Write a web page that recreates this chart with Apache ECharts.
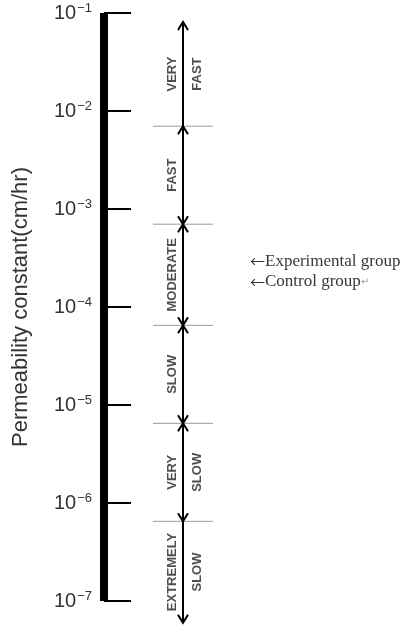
<!DOCTYPE html>
<html>
<head>
<meta charset="utf-8">
<script src="https://cdn.jsdelivr.net/npm/echarts@6/dist/echarts.min.js"></script>
<style>html,body{margin:0;padding:0;background:#fff}#c{width:409px;height:628px}</style>
</head>
<body>
<div id="c"></div>
<script>
// ---- data ----
const tickExponents = [-7, -6, -5, -4, -3, -2, -1];
const classNames = ['VERY FAST', 'FAST', 'MODERATE', 'SLOW', 'VERY SLOW', 'EXTREMELY SLOW'];
// class limits (cm/hr), top to bottom; first and last are the arrow tips
const classBounds = [8.1e-2, 7e-3, 7e-4, 6.5e-5, 6.5e-6, 6.5e-7, 6e-8];
const arrowAtTop = [1, 1, 1, 1, 1, 0];
const arrowAtBottom = [0, 1, 1, 1, 1, 1];
const groupNames = ['Experimental group', 'Control group'];
const groupValues = [2.9e-4, 1.8e-4];

// ---- layout (x in grid units = pixels from axis) ----
const X_ARROW = 79, X_LINE0 = 49, X_LINE1 = 109, X_WORD1 = 68, X_WORD2 = 93, X_GROUP = 146;

const segData = classNames.map((n, i) => [X_ARROW, classBounds[i], classBounds[i + 1], arrowAtTop[i], arrowAtBottom[i]]);
const boundData = classBounds.slice(1, -1).map(b => [X_LINE0, b]);
const word1Data = [], word2Data = [];
classNames.forEach((n, i) => {
  const mid = Math.sqrt(classBounds[i] * classBounds[i + 1]);
  const w = n.split(' ');
  word1Data.push({ value: [X_WORD1, mid], name: w[0] });
  if (w[1]) word2Data.push({ value: [X_WORD2, mid], name: w[1] });
});
const groupData = groupNames.map((g, i) => ({ value: [X_GROUP, groupValues[i]], name: g }));

const wordLabel = {
  show: true, position: 'inside', rotate: 90, formatter: p => p.name,
  fontFamily: 'Liberation Sans, Arial, sans-serif', fontWeight: 'bold', fontSize: 13, color: '#222'
};

const chart = echarts.init(document.getElementById('c'), null, { renderer: 'canvas' });
chart.setOption({
  animation: false,
  backgroundColor: '#fff',
  grid: { left: 104, right: 0, top: 13, bottom: 27, containLabel: false, outerBoundsMode: 'none' },
  xAxis: { type: 'value', min: 0, max: 305, show: false },
  yAxis: {
    type: 'log', logBase: 10, min: Math.pow(10, tickExponents[0]), max: Math.pow(10, tickExponents[tickExponents.length - 1]),
    splitNumber: 6,
    name: 'Permeability constant(cm/hr)', nameLocation: 'middle', nameGap: 72, nameRotate: 90,
    nameTextStyle: { fontFamily: 'Liberation Sans, Arial, sans-serif', fontSize: 22, color: '#333' },
    axisLine: { show: true, lineStyle: { color: '#000', width: 8, cap: 'butt' } },
    axisTick: { show: true, inside: true, length: 27, lineStyle: { color: '#000', width: 2 } },
    splitLine: { show: false },
    minorTick: { show: false },
    axisLabel: {
      margin: 12,
      formatter: v => '{b|10}{s|−' + Math.abs(Math.round(Math.log10(v))) + '}',
      rich: {
        b: { fontFamily: 'Liberation Sans, Arial, sans-serif', fontSize: 20, color: '#333', lineHeight: 22 },
        s: { fontFamily: 'Liberation Sans, Arial, sans-serif', fontSize: 13, color: '#333', verticalAlign: 'top', lineHeight: 14, padding: [0, 0, 0, 1] }
      }
    }
  },
  series: [
    {
      type: 'custom', clip: false, silent: true,
      encode: { x: 0, y: [1, 2] },
      data: segData,
      renderItem: (params, api) => {
        const t = api.coord([api.value(0), api.value(1)]);
        const b = api.coord([api.value(0), api.value(2)]);
        const st = { stroke: '#000', lineWidth: 2, fill: null };
        const ch = [{ type: 'line', shape: { x1: t[0], y1: t[1], x2: b[0], y2: b[1] }, style: st }];
        if (api.value(3)) ch.push({ type: 'polyline', shape: { points: [[t[0] - 5, t[1] + 8], [t[0], t[1]], [t[0] + 5, t[1] + 8]] }, style: st });
        if (api.value(4)) ch.push({ type: 'polyline', shape: { points: [[b[0] - 5, b[1] - 8], [b[0], b[1]], [b[0] + 5, b[1] - 8]] }, style: st });
        return { type: 'group', children: ch };
      }
    },
    {
      type: 'custom', clip: false, silent: true, z: 1,
      encode: { x: 0, y: 1 },
      data: boundData,
      renderItem: (params, api) => {
        const a = api.coord([X_LINE0, api.value(1)]);
        const b = api.coord([X_LINE1, api.value(1)]);
        return { type: 'line', shape: { x1: a[0], y1: a[1], x2: b[0], y2: b[1] }, style: { stroke: '#999', lineWidth: 1 } };
      }
    },
    { type: 'scatter', symbolSize: 0, silent: true, data: word1Data, label: wordLabel },
    { type: 'scatter', symbolSize: 0, silent: true, data: word2Data, label: wordLabel },
    {
      type: 'scatter', symbolSize: 0, silent: true, data: groupData,
      label: {
        show: true, position: 'right', distance: 0,
        formatter: p => '{a|←}' + p.name + (p.dataIndex === groupData.length - 1 ? '{r|↵}' : ''),
        fontFamily: 'Liberation Serif, Times New Roman, serif', fontSize: 17, color: '#000',
        rich: {
          a: { fontSize: 15, color: '#000', fontFamily: 'Noto Sans CJK SC, DejaVu Sans, sans-serif' },
          r: { fontSize: 10, color: '#888', fontFamily: 'DejaVu Sans, sans-serif' }
        }
      }
    }
  ]
});
</script>
</body>
</html>
